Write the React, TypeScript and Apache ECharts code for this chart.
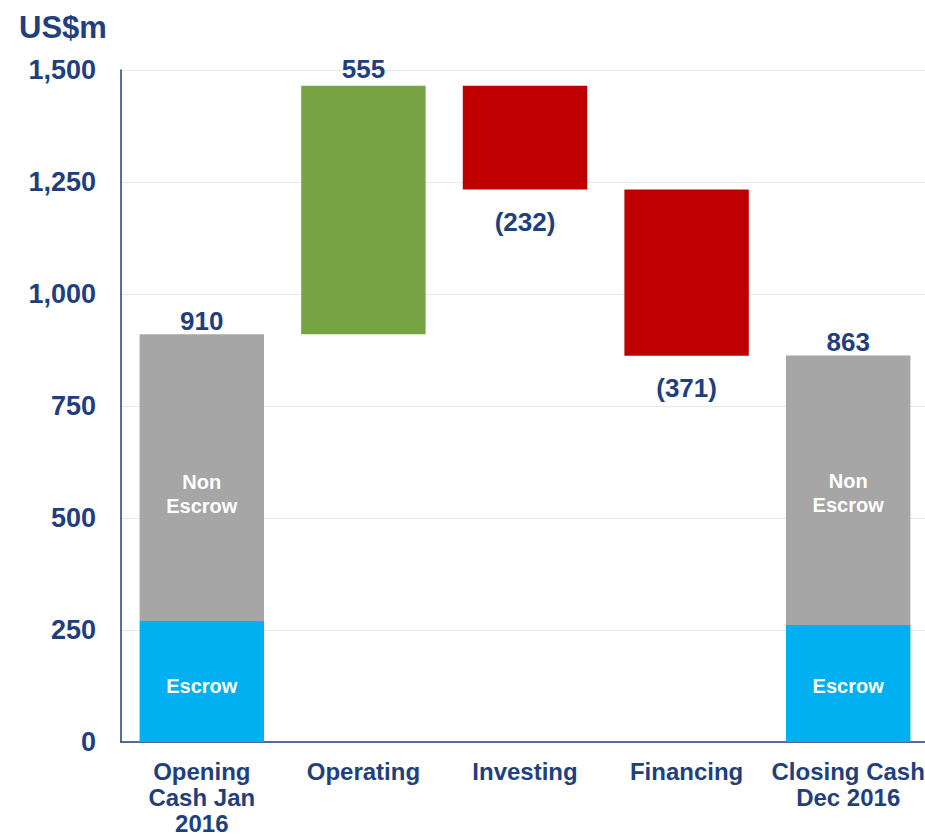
import React, { useEffect, useRef } from "react";
import * as echarts from "echarts";

const categories = ["Opening\nCash Jan\n2016", "Operating", "Investing", "Financing", "Closing Cash\nDec 2016"];
const baseValues = [0, 910, 1233, 862, 0];
const escrowValues: (number | null)[] = [270, null, null, null, 261];
const nonEscrowValues: (number | null)[] = [640, null, null, null, 602];
const totalValues: (number | null)[] = [910, null, null, null, 863];
const increaseValues: (number | null)[] = [null, 555, null, null, null];
const decreaseValues: (number | null)[] = [null, null, 232, 371, null];
const yTicks = { min: 0, max: 1500, interval: 250 };

const BLUE = "#213F7D";
const FONT = "Liberation Sans, Arial, sans-serif";

export default function App() {
  const ref = useRef<HTMLDivElement>(null);
  useEffect(() => {
    if (!ref.current) return;
    const chart = echarts.init(ref.current, undefined, { renderer: "svg" });
    const barW = "77%";
    const escrowOffsets = [4, 0, 0, 0, 2];
    const nonEscrowOffsets = [16, 0, 0, 0, 3];
    chart.setOption({
      animation: false,
      title: {
        text: "US$m",
        left: 14,
        top: 7,
        textStyle: { color: BLUE, fontSize: 31, fontWeight: "bold", fontFamily: FONT },
      },
      grid: { left: 121, width: 808, top: 70, bottom: 94, outerBoundsMode: "none", containLabel: false },
      xAxis: {
        type: "category",
        data: categories,
        axisLine: { lineStyle: { color: BLUE, width: 1.5 } },
        axisTick: { show: false },
        axisLabel: {
          color: BLUE,
          fontSize: 24,
          fontWeight: "bold",
          fontFamily: FONT,
          lineHeight: 26,
          margin: 16,
          interval: 0,
        },
      },
      yAxis: {
        type: "value",
        min: yTicks.min,
        max: yTicks.max,
        interval: yTicks.interval,
        axisLine: { show: true, lineStyle: { color: BLUE, width: 1.5 } },
        axisTick: { show: false },
        splitLine: { lineStyle: { color: "#E8E8E8", width: 1 } },
        axisLabel: {
          color: BLUE,
          fontSize: 27,
          fontWeight: "bold",
          fontFamily: FONT,
          margin: 25,
          formatter: (v: number) => v.toLocaleString("en-US"),
        },
      },
      series: [
        {
          name: "base",
          type: "bar",
          stack: "s",
          barWidth: barW,
          data: baseValues,
          itemStyle: { color: "transparent" },
          silent: true,
        },
        {
          name: "Escrow",
          type: "bar",
          stack: "s",
          barWidth: barW,
          data: escrowValues.map((v, i) => ({ value: v, label: { offset: [0, escrowOffsets[i]] } })),
          itemStyle: { color: "#00B0F0" },
          label: {
            show: true,
            position: "inside",
            formatter: "Escrow",
            color: "#fff",
            fontSize: 20,
            fontWeight: "bold",
            fontFamily: FONT,
          },
        },
        {
          name: "Non Escrow",
          type: "bar",
          stack: "s",
          barWidth: barW,
          data: nonEscrowValues.map((v, i) => ({ value: v, label: { offset: [0, nonEscrowOffsets[i]] } })),
          itemStyle: { color: "#A6A6A6" },
          label: {
            show: true,
            position: "inside",
            formatter: "Non\nEscrow",
            lineHeight: 24,
            color: "#fff",
            fontSize: 20,
            fontWeight: "bold",
            fontFamily: FONT,
          },
        },
        {
          name: "Total",
          type: "bar",
          stack: "s",
          barWidth: barW,
          data: totalValues.map(() => 0),
          itemStyle: { color: "transparent" },
          label: {
            show: true,
            position: "top",
            distance: 0,
            formatter: (p: any) => (totalValues[p.dataIndex] == null ? "" : String(totalValues[p.dataIndex])),
            color: BLUE,
            fontSize: 26,
            fontWeight: "bold",
            fontFamily: FONT,
          },
        },
        {
          name: "Increase",
          type: "bar",
          stack: "s",
          barWidth: barW,
          data: increaseValues,
          itemStyle: { color: "#79A443" },
          label: {
            show: true,
            position: "top",
            distance: 4,
            color: BLUE,
            fontSize: 26,
            fontWeight: "bold",
            fontFamily: FONT,
          },
        },
        {
          name: "Decrease",
          type: "bar",
          stack: "s",
          barWidth: barW,
          data: decreaseValues,
          itemStyle: { color: "#C00000" },
          label: {
            show: true,
            position: "bottom",
            distance: 19,
            formatter: (p: any) => `(${p.value})`,
            color: BLUE,
            fontSize: 26,
            fontWeight: "bold",
            fontFamily: FONT,
          },
        },
      ],
    });
    return () => chart.dispose();
  }, []);
  return (
    <div
      ref={ref}
      style={{ position: "absolute", left: 0, top: 0, width: 925, height: 836, background: "#fff" }}
    />
  );
}
